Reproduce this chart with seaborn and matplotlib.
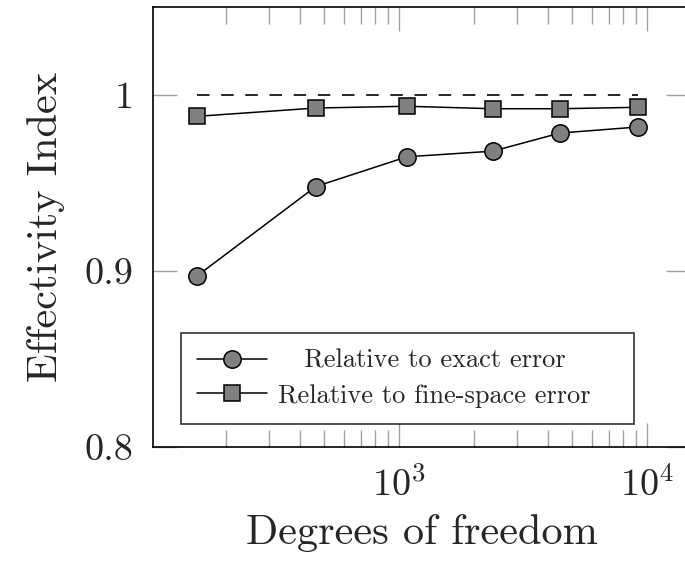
import numpy as np
import pandas as pd
import matplotlib
matplotlib.use("Agg")
import matplotlib.pyplot as plt
import seaborn as sns

# Degrees of freedom for each refinement level
dofs = [154, 462, 1077, 2390, 4460, 9160]
# Effectivity index of the estimator
eff_exact = [0.8974, 0.9480, 0.9649, 0.9681, 0.9784, 0.9818]
eff_fine = [0.9879, 0.9926, 0.9936, 0.9922, 0.9922, 0.9930]
series_names = ["Relative to exact error", "Relative to fine-space error"]
y_ticks = [0.8, 0.9, 1.0]
y_tick_labels = ["0.8", "0.9", "1"]

sns.set_theme(style="white")
plt.rcParams["font.family"] = ["cmr10", "DejaVu Serif"]
plt.rcParams["mathtext.fontset"] = "cm"
plt.rcParams["axes.unicode_minus"] = False

fig = plt.figure(figsize=(6.85, 5.65), dpi=100)
ax = fig.add_axes([153 / 685, 1 - 447 / 565, (690 - 153) / 685, 440 / 565])

grey = "#808080"
sns.lineplot(x=dofs, y=eff_exact, ax=ax, color="black", lw=1.1,
             marker="o", markersize=12.5, markerfacecolor=grey,
             markeredgecolor="black", markeredgewidth=1.1,
             label="   " + series_names[0])
sns.lineplot(x=dofs, y=eff_fine, ax=ax, color="black", lw=1.1,
             marker="s", markersize=12, markerfacecolor=grey,
             markeredgecolor="black", markeredgewidth=1.1,
             label=series_names[1])
# reference level of a perfect estimator
ax.plot([dofs[0], dofs[-1]], [1.0, 1.0], color="black", lw=1.2,
        ls=(0, (7.5, 7)), zorder=1)

ax.set_xscale("log")
ax.set_xlim(101.9, 14900)
ax.set_ylim(0.8, 1.05)
ax.set_yticks(y_ticks)
ax.set_yticklabels(y_tick_labels)
ax.set_xticks([1e3, 1e4])
ax.set_xticklabels([r"$10^3$", r"$10^4$"])
ax.xaxis.set_minor_locator(matplotlib.ticker.LogLocator(base=10, subs=np.arange(2, 10)))
ax.yaxis.set_minor_locator(matplotlib.ticker.NullLocator())

ax.tick_params(axis="both", which="major", direction="in", length=17, width=1,
               color="#a0a0a0", labelsize=27.5, top=True, right=True,
               bottom=True, left=True, pad=14)
ax.tick_params(axis="x", which="minor", direction="in", length=12, width=1,
               color="#a0a0a0", top=True, bottom=True)
for s in ax.spines.values():
    s.set_color("black")
    s.set_linewidth(1.2)

ax.set_xlabel("Degrees of freedom", fontsize=30.5, labelpad=8)
ax.set_ylabel("Effectivity Index", fontsize=30.5, labelpad=14)

leg = ax.legend(loc="lower left", bbox_to_anchor=(0.0516, 0.0523, 0.8436, 0.2),
                mode="expand", fontsize=19,
                frameon=True, fancybox=False, edgecolor="black",
                handlelength=2.65, handletextpad=0.42, borderpad=0.62,
                labelspacing=0.42, borderaxespad=0)
leg.get_frame().set_linewidth(1.2)

fig.savefig("out.png", dpi=100)
